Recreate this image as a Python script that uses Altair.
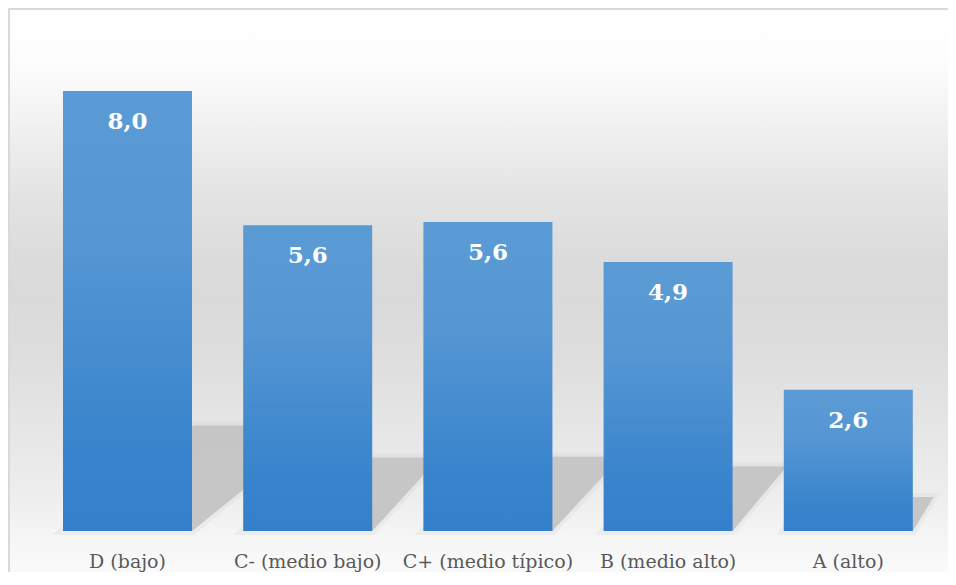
import altair as alt
import pandas as pd

# ---- data ----
categories = ["D (bajo)", "C- (medio bajo)", "C+ (medio típico)", "B (medio alto)", "A (alto)"]
values = [8.0, 5.56, 5.62, 4.89, 2.57]

labels = [f"{v:.1f}".replace(".", ",") for v in values]
df = pd.DataFrame({"cat": categories, "val": values, "label": labels})

SERIF = "DejaVu Serif"

# ---- layout constants ----
W, H = 901, 495
Y_MAX = 9
PAD_IN, PAD_OUT = 0.284, 0.142
HALF_BAR = (1 - PAD_IN) / 2           # half bar width in band-step units
PX_X = W / len(categories)            # pixels per step
PX_Y = H / Y_MAX                      # pixels per value unit

# ---- decorative floor shadow (derived from bar values) ----
rows = []
for i, (c, v) in enumerate(zip(categories, values)):
    L = i + 0.5 - HALF_BAR
    R = i + 0.5 + HALF_BAR
    dy = 0.24 * v
    dy_px = dy * PX_Y
    dx = (0.011 * dy_px ** 2 + 8) / PX_X
    for xp in sorted([L, R, L + dx, R + dx]):
        top = dy * min(max((xp - L) / dx, 0), 1)
        bot = dy * min(max((xp - R) / dx, 0), 1)
        rows.append({"grp": c, "sx": xp, "top": top, "bot": bot})
shadow_df = pd.DataFrame(rows)

yscale = alt.Scale(domain=[0, Y_MAX], nice=False, zero=True)

bg_grad = alt.Gradient(
    gradient="linear", x1=0, x2=0, y1=0, y2=1,
    stops=[
        alt.GradientStop(color="#ffffff", offset=0),
        alt.GradientStop(color="#fdfdfd", offset=0.087),
        alt.GradientStop(color="#f6f6f6", offset=0.155),
        alt.GradientStop(color="#ececec", offset=0.24),
        alt.GradientStop(color="#e3e3e3", offset=0.325),
        alt.GradientStop(color="#dbdbdb", offset=0.43),
        alt.GradientStop(color="#dadada", offset=0.495),
        alt.GradientStop(color="#dedede", offset=0.6),
        alt.GradientStop(color="#e6e6e6", offset=0.717),
        alt.GradientStop(color="#eeeeee", offset=0.836),
        alt.GradientStop(color="#f6f6f6", offset=0.905),
        alt.GradientStop(color="#fbfbfb", offset=0.98),
        alt.GradientStop(color="#fcfcfc", offset=1),
    ],
)

one = alt.Data(values=[{"k": 1}])

background = alt.Chart(one).mark_rect(fill=bg_grad, strokeWidth=0).encode(
    x=alt.value(-29.4), x2=alt.value(W + 9.6),
    y=alt.value(-28), y2=alt.value(560),
)

border_top = alt.Chart(one).mark_rule(color="#d9d9d9", strokeWidth=2).encode(
    x=alt.value(-29.4), x2=alt.value(W + 9.6), y=alt.value(-27),
)
border_left = alt.Chart(one).mark_rule(color="#d9d9d9", strokeWidth=2).encode(
    x=alt.value(-28.4), y=alt.value(-28), y2=alt.value(560),
)

shadow_x = alt.X("sx:Q", scale=alt.Scale(domain=[0, len(categories)], nice=False, zero=False), axis=None)

# soft outer fringe + core of the floor shadow
shadow_soft = alt.Chart(shadow_df).mark_area(
    color="#cfcfcf", opacity=0.6, interpolate="linear", orient="vertical",
    stroke="#cfcfcf", strokeWidth=8, strokeOpacity=0.35,
).encode(
    x=shadow_x,
    y=alt.Y("top:Q", scale=yscale, axis=None, stack=None),
    y2=alt.Y2("bot:Q"),
    detail=alt.Detail("grp:N"),
)
shadow = alt.Chart(shadow_df).mark_area(
    color="#c3c3c3", opacity=0.9, interpolate="linear", orient="vertical",
).encode(
    x=shadow_x,
    y=alt.Y("top:Q", scale=yscale, axis=None, stack=None),
    y2=alt.Y2("bot:Q"),
    detail=alt.Detail("grp:N"),
)

bar_grad = alt.Gradient(
    gradient="linear", x1=0, x2=0, y1=0, y2=1,
    stops=[
        alt.GradientStop(color="#5B9BD5", offset=0),
        alt.GradientStop(color="#5596D3", offset=0.35),
        alt.GradientStop(color="#3F88CE", offset=0.7),
        alt.GradientStop(color="#3783CC", offset=0.85),
        alt.GradientStop(color="#3580CB", offset=1),
    ],
)

xenc = alt.X(
    "cat:N", sort=categories, title=None,
    scale=alt.Scale(paddingInner=PAD_IN, paddingOuter=PAD_OUT),
    axis=alt.Axis(
        labelAngle=0, ticks=False, domain=False, grid=False, zindex=1,
        labelFont=SERIF, labelFontSize=19, labelColor="#595959",
        labelPadding=36, labelBaseline="alphabetic", labelOverlap=False, labelLimit=400,
    ),
)

bars = alt.Chart(df).mark_bar(fill=bar_grad).encode(
    x=xenc,
    y=alt.Y("val:Q", scale=yscale, axis=None),
)

text = alt.Chart(df).mark_text(
    baseline="alphabetic", dy=38, font=SERIF, fontWeight="bold",
    fontSize=23, color="#ffffff",
).encode(
    x=alt.X("cat:N", sort=categories),
    y=alt.Y("val:Q", scale=yscale),
    text="label:N",
)

chart = alt.layer(background, border_top, border_left, shadow_soft, shadow, bars, text).resolve_scale(
    x="independent"
).properties(
    width=W, height=H,
    padding={"left": 29.4, "top": 28, "right": 9.6, "bottom": 41},
    autosize=alt.AutoSizeParams(type="none"),
).configure_view(stroke=None)

chart.save("out.html", embed_options={"renderer": "svg", "actions": False})
